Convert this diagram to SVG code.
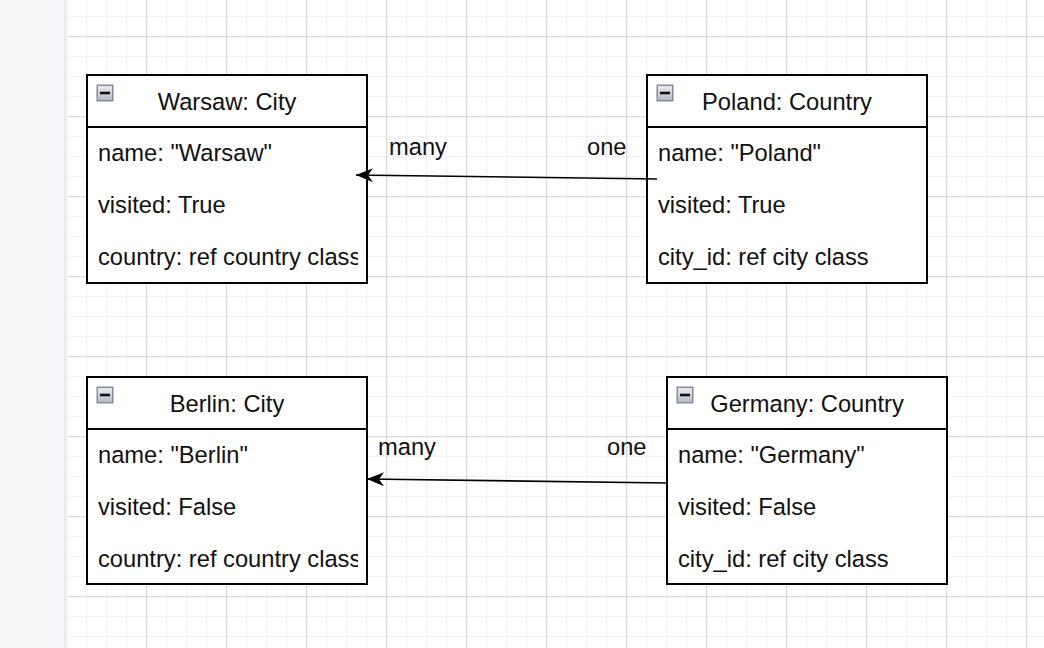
<svg xmlns="http://www.w3.org/2000/svg" width="1044" height="648" viewBox="0 0 1044 648">
  <style>
    .box { fill: #ffffff; stroke: #000000; stroke-width: 2; }
    .div { stroke: #000000; stroke-width: 2; fill: none; }
    .t { font-family: "Liberation Sans", Arial, sans-serif; font-size: 23.7px; fill: #111111; }
    .title { text-anchor: middle; }
    .edge { stroke: #000000; stroke-width: 1.6; fill: none; }
  </style>
  <defs>
    <pattern id="grid" patternUnits="userSpaceOnUse" x="66.2" y="36.2" width="80" height="80">
      <path d="M20.5 0V80 M40.5 0V80 M60.5 0V80 M0 20.5H80 M0 40.5H80 M0 60.5H80" stroke="#efefef" stroke-width="1" fill="none"/>
      <path d="M0.5 0V80 M0 0.5H80" stroke="#d2d2d2" stroke-width="1" fill="none"/>
    </pattern>
    <linearGradient id="btn" x1="0" y1="0" x2="0" y2="1">
      <stop offset="0" stop-color="#eceef2"/>
      <stop offset="1" stop-color="#b3b8c2"/>
    </linearGradient>
    <linearGradient id="shadow" x1="0" y1="0" x2="1" y2="0">
      <stop offset="0" stop-color="#f6f7f9"/>
      <stop offset="0.6" stop-color="#e3e5e9"/>
      <stop offset="1" stop-color="#ffffff"/>
    </linearGradient>
    <g id="collapse">
      <rect x="0.75" y="0.75" width="15.5" height="15.5" fill="url(#btn)" stroke="#858c99" stroke-width="1.5"/>
      <rect x="3.5" y="7.2" width="10" height="2.6" fill="#111111"/>
    </g>
    <marker id="arrow" viewBox="0 0 17 14" refX="17" refY="7" markerWidth="17" markerHeight="14" markerUnits="userSpaceOnUse" orient="auto">
      <path d="M0 0 L17 7 L0 14 L5 7 Z" fill="#000000"/>
    </marker>
    <clipPath id="clipW"><rect x="88" y="128" width="270" height="154"/></clipPath>
    <clipPath id="clipB"><rect x="88" y="430" width="270" height="154"/></clipPath>
  </defs>

  <rect x="0" y="0" width="1044" height="648" fill="#ffffff"/>
  <rect x="66" y="0" width="978" height="648" fill="url(#grid)"/>
  <rect x="0" y="0" width="63" height="648" fill="#f6f7f9"/>
  <rect x="63" y="0" width="4" height="648" fill="url(#shadow)"/>

  <g id="node-warsaw">
    <rect class="box" x="87" y="75" width="280" height="208"/>
    <line class="div" x1="87" y1="127" x2="367" y2="127"/>
    <use href="#collapse" x="96.5" y="84.5"/>
    <text class="t title" x="227" y="110">Warsaw: City</text>
    <g clip-path="url(#clipW)">
      <text class="t" x="98" y="161">name: "Warsaw"</text>
      <text class="t" x="98" y="213">visited: True</text>
      <text class="t" x="98" y="265">country: ref country class</text>
    </g>
  </g>

  <g id="node-poland">
    <rect class="box" x="647" y="75" width="280" height="208"/>
    <line class="div" x1="647" y1="127" x2="927" y2="127"/>
    <use href="#collapse" x="656.5" y="84.5"/>
    <text class="t title" x="787" y="110">Poland: Country</text>
    <text class="t" x="658" y="161">name: "Poland"</text>
    <text class="t" x="658" y="213">visited: True</text>
    <text class="t" x="658" y="265">city_id: ref city class</text>
  </g>

  <g id="node-berlin">
    <rect class="box" x="87" y="377" width="280" height="207"/>
    <line class="div" x1="87" y1="429" x2="367" y2="429"/>
    <use href="#collapse" x="96.5" y="386.5"/>
    <text class="t title" x="227" y="412">Berlin: City</text>
    <g clip-path="url(#clipB)">
      <text class="t" x="98" y="463">name: "Berlin"</text>
      <text class="t" x="98" y="515">visited: False</text>
      <text class="t" x="98" y="567">country: ref country class</text>
    </g>
  </g>

  <g id="node-germany">
    <rect class="box" x="667" y="377" width="280" height="207"/>
    <line class="div" x1="667" y1="429" x2="947" y2="429"/>
    <use href="#collapse" x="676.5" y="386.5"/>
    <text class="t title" x="807" y="412">Germany: Country</text>
    <text class="t" x="678" y="463">name: "Germany"</text>
    <text class="t" x="678" y="515">visited: False</text>
    <text class="t" x="678" y="567">city_id: ref city class</text>
  </g>

  <g id="connectors">
    <g id="edge-poland-warsaw">
      <path class="edge" d="M657 179 L356 175" marker-end="url(#arrow)"/>
      <text class="t" x="389" y="155">many</text>
      <text class="t" x="587" y="155">one</text>
    </g>
    <g id="edge-germany-berlin">
      <path class="edge" d="M668 483 L367 479" marker-end="url(#arrow)"/>
      <text class="t" x="378" y="455">many</text>
      <text class="t" x="607" y="455">one</text>
    </g>
  </g>
</svg>
